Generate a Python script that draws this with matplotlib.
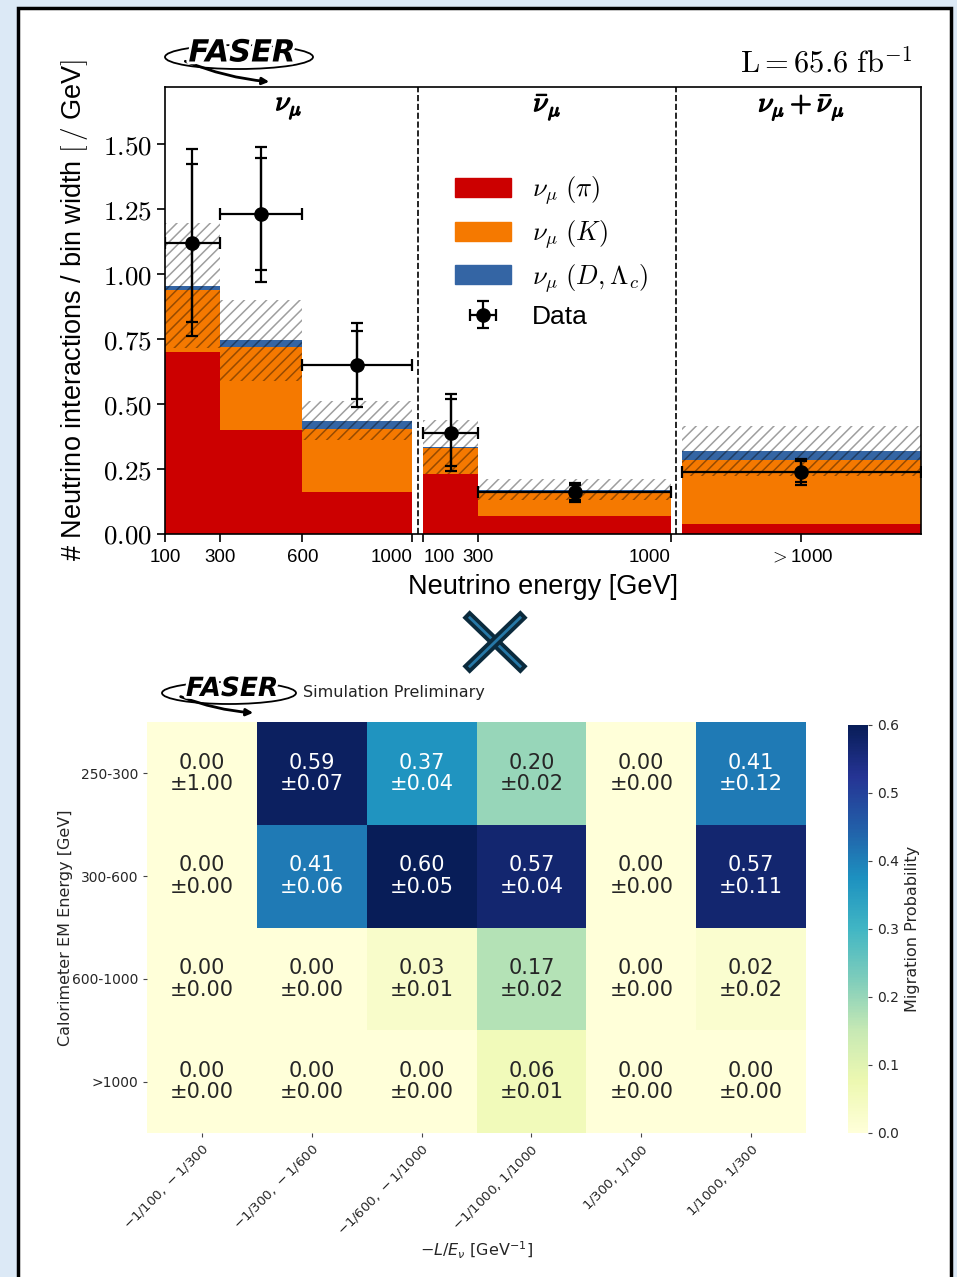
import numpy as np
import matplotlib
matplotlib.use('Agg')
import matplotlib.pyplot as plt
import matplotlib.patheffects as pe
from matplotlib.patches import Patch, Ellipse, Rectangle, FancyArrowPatch

plt.rcParams['mathtext.fontset'] = 'cm'
plt.rcParams['hatch.linewidth'] = 1.1

RED, ORANGE, BLUE = '#cc0000', '#f57900', '#3465a4'
SANS = 'Liberation Sans'

# nu_mu region
nu_edges = [100, 300, 600, 1000]
nu_pi = [0.70, 0.40, 0.16]
nu_k = [0.24, 0.32, 0.245]
nu_charm = [0.015, 0.025, 0.03]
nu_unc = [0.24, 0.155, 0.075]
nu_x = [200, 450, 800]
nu_data = [1.12, 1.23, 0.65]
nu_stat = [0.305, 0.215, 0.13]
nu_tot = [0.36, 0.26, 0.16]

# anti nu_mu region
nubar_edges = [100, 300, 1000]
nubar_pi = [0.23, 0.07]
nubar_k = [0.10, 0.09]
nubar_charm = [0.004, 0.01]
nubar_unc = [0.105, 0.04]
nubar_x = [200, 650]
nubar_data = [0.39, 0.16]
nubar_stat = [0.13, 0.03]
nubar_tot = [0.147, 0.037]

# nu_mu + anti nu_mu above 1 TeV
all_pi = [0.04]
all_k = [0.245]
all_charm = [0.035]
all_unc = [0.095]
all_data = [0.24]
all_stat = [0.04]
all_tot = [0.05]

region_labels = [r'$\nu_\mu$', r'$\bar{\nu}_\mu$', r'$\nu_\mu + \bar{\nu}_\mu$']
tick_energies = [100, 300, 600, 1000, 100, 300, 1000]
tick_text = ['100', '300', '600', '1000', '100', '300', '1000', r'$>$1000']
tick_align = ['center', 'center', 'center', 'right', 'left', 'center', 'right', 'center']

# migration matrix
hm_rows = ['250-300', '300-600', '600-1000', '>1000']
hm_cols = [r'$-1/100,\, -1/300$', r'$-1/300,\, -1/600$', r'$-1/600,\, -1/1000$',
           r'$-1/1000,\, 1/1000$', r'$1/300,\, 1/100$', r'$1/1000,\, 1/300$']
prob = np.array([[0.00, 0.59, 0.37, 0.20, 0.00, 0.41],
                 [0.00, 0.41, 0.60, 0.57, 0.00, 0.57],
                 [0.00, 0.00, 0.03, 0.17, 0.00, 0.02],
                 [0.00, 0.00, 0.00, 0.06, 0.00, 0.00]])
prob_err = np.array([[1.00, 0.07, 0.04, 0.02, 0.00, 0.12],
                     [0.00, 0.06, 0.05, 0.04, 0.00, 0.11],
                     [0.00, 0.00, 0.01, 0.02, 0.00, 0.02],
                     [0.00, 0.00, 0.00, 0.01, 0.00, 0.00]])

# x layout of the three regions on one axis
NUBAR_OFF = 940
ALL_LO, ALL_HI = 1980, 2850
ALL_MID = 0.5 * (ALL_LO + ALL_HI)

W, H = 957, 1277
fig = plt.figure(figsize=(W / 100, H / 100), dpi=100, facecolor='#dce9f6')

def frac(x0, y0, x1, y1):
    return [x0 / W, 1 - y1 / H, (x1 - x0) / W, (y1 - y0) / H]

bg = fig.add_axes([0, 0, 1, 1], zorder=-5)
bg.set_xlim(0, W); bg.set_ylim(H, 0); bg.axis('off')
bg.add_patch(Rectangle((18, 8), 933, 1300, facecolor='white', edgecolor='black', lw=2.5))


def stack(ax, lefts, rights, pi, k, charm, unc):
    lefts = np.array(lefts, float); rights = np.array(rights, float)
    w = rights - lefts
    pi = np.array(pi); k = np.array(k); charm = np.array(charm); unc = np.array(unc)
    ax.bar(lefts, pi, w, align='edge', color=RED, lw=0)
    ax.bar(lefts, k, w, bottom=pi, align='edge', color=ORANGE, lw=0)
    ax.bar(lefts, charm, w, bottom=pi + k, align='edge', color=BLUE, lw=0)
    tot = pi + k + charm
    ax.bar(lefts, 2 * unc, w, bottom=tot - unc, align='edge', fill=False,
           hatch='///', edgecolor=(0, 0, 0, 0.38), lw=0)


def points(ax, x, xlo, xhi, y, stat, tot):
    x = np.array(x, float)
    xerr = [x - np.array(xlo), np.array(xhi) - x]
    c = ax.errorbar(x, y, yerr=tot, xerr=xerr, fmt='o', color='k', ms=9.5,
                    lw=1.6, capsize=4, capthick=1.6, zorder=5)
    ax.errorbar(x, y, yerr=stat, fmt='none', ecolor='k', lw=1.6,
                capsize=4, capthick=1.6, zorder=5)
    return c


ax = fig.add_axes(frac(165, 87, 921, 534))
stack(ax, nu_edges[:-1], nu_edges[1:], nu_pi, nu_k, nu_charm, nu_unc)
nb = np.array(nubar_edges) + NUBAR_OFF
stack(ax, nb[:-1], nb[1:], nubar_pi, nubar_k, nubar_charm, nubar_unc)
stack(ax, [ALL_LO], [ALL_HI], all_pi, all_k, all_charm, all_unc)

data_handle = points(ax, nu_x, nu_edges[:-1], nu_edges[1:], nu_data, nu_stat, nu_tot)
points(ax, np.array(nubar_x) + NUBAR_OFF, nb[:-1], nb[1:], nubar_data, nubar_stat, nubar_tot)
points(ax, [ALL_MID], [ALL_LO], [ALL_HI], all_data, all_stat, all_tot)

for xv in [0.5 * (nu_edges[-1] + nb[0]), 0.5 * (nb[-1] + ALL_LO)]:
    ax.axvline(xv, color='k', ls='--', lw=1.2)

ax.set_xlim(nu_edges[0], ALL_HI)
ax.set_ylim(0, 1.72)

tick_pos = list(tick_energies[:4]) + [e + NUBAR_OFF for e in tick_energies[4:]] + [ALL_MID]
ax.set_xticks(tick_pos)
ax.set_xticklabels(tick_text, fontsize=13.5, family=SANS)
for t, a in zip(ax.get_xticklabels(), tick_align):
    t.set_ha(a)
ax.set_yticks(np.arange(0, 1.51, 0.25))
ax.set_yticklabels([r'$%.2f$' % v for v in np.arange(0, 1.51, 0.25)], fontsize=19.5)
ax.tick_params(direction='out', length=6, width=1.2)
ax.tick_params(axis='x', pad=4.5)
for s in ax.spines.values():
    s.set_linewidth(1.2)

ax.set_xlabel('Neutrino energy [GeV]', fontsize=19.5, family=SANS, labelpad=6)
ax.set_ylabel(r'# Neutrino interactions / bin width $[\,/$ GeV$]$', fontsize=19.5, family=SANS)
ax.yaxis.set_label_coords(-0.099, 0.5)

region_x = [0.5 * (nu_edges[0] + nu_edges[-1]), 0.5 * (nb[0] + nb[-1]), ALL_MID]
for xv, lab in zip(region_x, region_labels):
    ax.text(xv, 0.955, lab, transform=ax.get_xaxis_transform(), ha='center', va='center',
            fontsize=20, path_effects=[pe.withStroke(linewidth=1.0, foreground='k')])

ax.text(0.988, 1.054, r'$\mathrm{L} = 65.6\ \mathrm{fb}^{-1}$', transform=ax.transAxes,
        ha='right', va='center', fontsize=22)

handles = [Patch(color=RED), Patch(color=ORANGE), Patch(color=BLUE), data_handle]
labels = [r'$\nu_\mu\ (\pi)$', r'$\nu_\mu\ (K)$', r'$\nu_\mu\ (D, \Lambda_c)$', 'Data']
ax.legend(handles, labels, loc='upper left', bbox_to_anchor=(0.37, 0.828), frameon=False,
          prop={'family': SANS, 'size': 19}, handlelength=2.1, handleheight=0.75,
          labelspacing=0.4, borderaxespad=0)

# migration matrix
hm = fig.add_axes(frac(147, 722, 806, 1133))
mesh = hm.pcolormesh(prob, cmap='YlGnBu', vmin=0, vmax=0.6)
hm.set_ylim(len(hm_rows), 0)
cmap = plt.get_cmap('YlGnBu')


def luminance(rgb):
    c = np.array(rgb[:3])
    c = np.where(c <= 0.03928, c / 12.92, ((c + 0.055) / 1.055) ** 2.4)
    return 0.2126 * c[0] + 0.7152 * c[1] + 0.0722 * c[2]


for i in range(prob.shape[0]):
    for j in range(prob.shape[1]):
        col = 'white' if luminance(cmap(prob[i, j] / 0.6)) < 0.408 else '#262626'
        hm.text(j + 0.5, i + 0.5, '%.2f\n\u00b1%.2f' % (prob[i, j], prob_err[i, j]),
                ha='center', va='center', fontsize=15, color=col, linespacing=1.1,
                family='DejaVu Sans')
for s in hm.spines.values():
    s.set_visible(False)
hm.set_xticks(np.arange(len(hm_cols)) + 0.5)
hm.set_xticklabels(hm_cols, rotation=45, ha='right', rotation_mode='anchor', fontsize=9.5)
for t in hm.get_xticklabels():
    t.set_math_fontfamily('dejavusans')
hm.set_yticks(np.arange(len(hm_rows)) + 0.5)
hm.set_yticklabels(hm_rows, fontsize=10)
hm.tick_params(length=3, color='#444444', labelcolor='#262626')
xl = hm.set_xlabel(r'$-L/E_\nu$ [GeV$^{-1}$]', fontsize=11.5, color='#262626', labelpad=1)
xl.set_math_fontfamily('dejavusans')
hm.set_ylabel('Calorimeter EM Energy [GeV]', fontsize=11.5, color='#262626')
hm.yaxis.set_label_coords(-0.113, 0.5)

cax = fig.add_axes(frac(848, 725, 868, 1133))
cb = fig.colorbar(mesh, cax=cax)
cb.outline.set_visible(False)
cb.set_ticks([0.0, 0.1, 0.2, 0.3, 0.4, 0.5, 0.6])
cb.ax.tick_params(labelsize=10, length=3, color='#444444', labelcolor='#262626')
cb.set_label('Migration Probability', fontsize=11.5, color='#262626')

# logos, cross and captions
ov = fig.add_axes([0, 0, 1, 1], zorder=10)
ov.set_xlim(0, W); ov.set_ylim(H, 0); ov.axis('off')


def logo(cx, cy, ew, eh, size, tip):
    ov.add_patch(Ellipse((cx, cy + 4), ew, eh, fill=False, ec='k', lw=1.3))
    ov.add_patch(FancyArrowPatch((cx - ew * 0.38, cy + eh * 0.3), tip, arrowstyle='-|>',
                                 mutation_scale=10, lw=2.0, color='k',
                                 connectionstyle='arc3,rad=0.08'))
    ov.text(cx + 3, cy, 'FASER', ha='center', va='center', fontsize=size,
            fontweight='heavy', style='italic', family='DejaVu Sans',
            path_effects=[pe.withStroke(linewidth=4, foreground='white')])


logo(239, 53, 148, 24, 22, (272, 82))
logo(229, 689, 134, 22, 19, (256, 713))
ov.text(303, 692, 'Simulation Preliminary', ha='left', va='center', fontsize=11.5,
        family='DejaVu Sans', color='#222222')

for (x0, y0, x1, y1) in [(466, 614, 524, 670), (524, 614, 466, 670)]:
    ov.plot([x0, x1], [y0, y1], color='#0b2a3c', lw=7.5, solid_capstyle='butt')
    ov.plot([x0 + (x1 - x0) * 0.05, x1 - (x1 - x0) * 0.05],
            [y0 + (y1 - y0) * 0.05, y1 - (y1 - y0) * 0.05],
            color='#2677a6', lw=2, solid_capstyle='butt')

fig.savefig('out.png', dpi=100, facecolor=fig.get_facecolor())
